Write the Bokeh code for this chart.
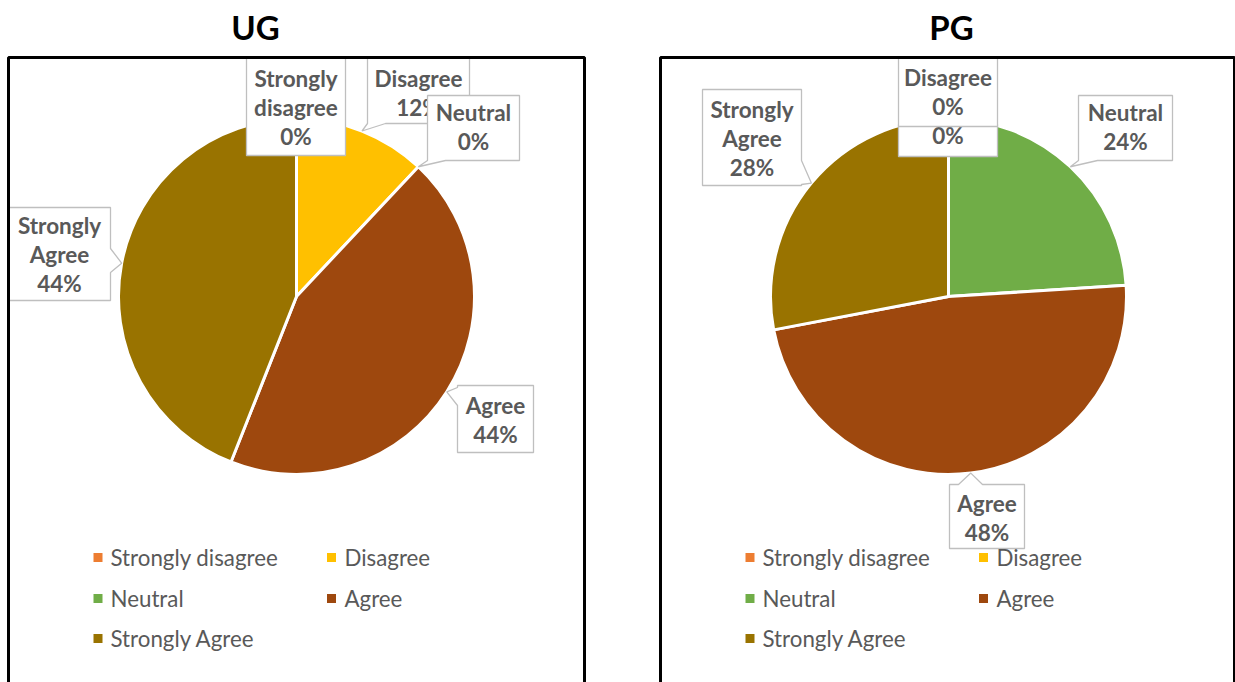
import math
from bokeh.plotting import figure
from bokeh.models import Range1d
from bokeh.core.properties import value
from bokeh.embed import file_html
from bokeh.resources import INLINE

# ---------------- data ----------------
categories = ["Strongly disagree", "Disagree", "Neutral", "Agree", "Strongly Agree"]
colors = ["#ED7D31", "#FFC000", "#70AD47", "#9E480E", "#997300"]
ug_values = [0, 12, 0, 44, 44]
pg_values = [0, 0, 24, 48, 28]
panel_titles = ["UG", "PG"]

# ---------------- layout (page pixel coordinates) ----------------
W, H = 1235, 682


def Y(v):
    return H - v


FONT = value("Lato")
LABEL_COLOR = "#595959"
BOX_LINE = "#BFBFBF"
LINE_STEP = 29

panels = [
    dict(title=panel_titles[0], values=ug_values, cx=296, cy=296, r=178, tx=255,
         border=(8, 584),
         legend=dict(cols=(97.5, 331), tcols=(110, 344), rows=(557, 598, 638)),
         labels={
             "Strongly disagree": dict(box=(246, 57, 345, 155), ty=78, ptr=None, name=True),
             "Disagree": dict(box=(367, 57, 469, 123), ty=78, ptr=("bottom", 367, 385), name=True),
             "Neutral": dict(box=(427, 95, 519, 160), ty=112, ptr=("bottom", 427, 445), name=True),
             "Agree": dict(box=(457, 385, 533, 452), ty=405, ptr=("left", 387, 405), name=True),
             "Strongly Agree": dict(box=(8, 207, 110, 300), ty=225, ptr=("right", 248, 272), name=True),
         }),
    dict(title=panel_titles[1], values=pg_values, cx=948, cy=296, r=178, tx=951,
         border=(660, 1234),
         legend=dict(cols=(749.5, 983), tcols=(762, 996), rows=(557, 598, 638)),
         labels={
             "Strongly disagree": dict(box=(898, 124, 997, 156), ty=135, ptr=None, name=False),
             "Disagree": dict(box=(898, 57, 997, 126), ty=77, ptr=None, name=True),
             "Neutral": dict(box=(1078, 95, 1172, 160), ty=112, ptr=("bottom", 1078, 1097), name=True),
             "Agree": dict(box=(949, 484, 1024, 548), ty=503, ptr=("top", 958, 982), name=True),
             "Strongly Agree": dict(box=(702, 89, 801, 185), ty=109, ptr=("right", 160, 184), name=True),
         }),
]

p = figure(width=W, height=H, x_range=Range1d(0, W), y_range=Range1d(0, H),
           output_backend="svg", toolbar_location=None,
           x_axis_type=None, y_axis_type=None, min_border=0)
p.outline_line_color = None
p.xgrid.visible = False
p.ygrid.visible = False
p.background_fill_color = "white"
p.border_fill_color = "white"


def callout(box, ptr, tip):
    x0, y0, x1, y1 = box
    pts = [(x0, y0)]
    if ptr is not None and ptr[0] == "top":
        pts += [(ptr[1], y0), tip, (ptr[2], y0)]
    pts.append((x1, y0))
    if ptr is not None and ptr[0] == "right":
        pts += [(x1, ptr[1]), tip, (x1, ptr[2])]
    pts.append((x1, y1))
    if ptr is not None and ptr[0] == "bottom":
        pts += [(ptr[2], y1), tip, (ptr[1], y1)]
    pts.append((x0, y1))
    if ptr is not None and ptr[0] == "left":
        pts += [(x0, ptr[2]), tip, (x0, ptr[1])]
    return [q[0] for q in pts], [Y(q[1]) for q in pts]


for pn in panels:
    vals = pn["values"]
    total = float(sum(vals))
    cx, cy, r = pn["cx"], pn["cy"], pn["r"]
    cum = 0.0
    mids = []
    for cat, v, col in zip(categories, vals, colors):
        f0 = cum / total
        f1 = (cum + v) / total
        cum += v
        mids.append((f0 + f1) / 2)
        if v > 0:
            p.wedge(x=cx, y=Y(cy), radius=r, radius_units="screen",
                    start_angle=math.pi / 2 - 2 * math.pi * f0,
                    end_angle=math.pi / 2 - 2 * math.pi * f1,
                    direction="clock", fill_color=col,
                    line_color="white", line_width=3)

    # data labels with callouts
    for cat, v, m in zip(categories, vals, mids):
        spec = pn["labels"][cat]
        ang = 2 * math.pi * m
        tip = (cx + r * math.sin(ang), cy - r * math.cos(ang))
        xs, ys = callout(spec["box"], spec["ptr"], tip)
        p.patch(xs, ys, fill_color="white", line_color=BOX_LINE, line_width=1.3)
        lines = (cat.split() if spec["name"] else []) + [f"{v}%"]
        bx = (spec["box"][0] + spec["box"][2]) / 2
        p.text(x=[bx] * len(lines),
               y=[Y(spec["ty"] + i * LINE_STEP) for i in range(len(lines))],
               text=lines, text_font=FONT, text_font_style="bold",
               text_font_size="22.5px", text_color=LABEL_COLOR,
               text_align="center", text_baseline="middle")

    # legend (2 columns, row-wise)
    lg = pn["legend"]
    for i, (cat, col) in enumerate(zip(categories, colors)):
        row, c = divmod(i, 2)
        p.scatter(x=[lg["cols"][c]], y=[Y(lg["rows"][row])], marker="square",
                  size=9, fill_color=col, line_color=None)
        p.text(x=[lg["tcols"][c]], y=[Y(lg["rows"][row])], text=[cat],
               text_font=FONT, text_font_size="22.3px", text_color=LABEL_COLOR,
               text_align="left", text_baseline="middle")

    # title
    p.text(x=[pn["tx"]], y=[Y(26)], text=[pn["title"]], text_font=FONT,
           text_font_style="bold", text_font_size="33px", text_color="black",
           text_align="center", text_baseline="middle")

    # panel border
    bl, br = pn["border"]
    p.quad(left=bl, right=br, top=Y(57), bottom=Y(700),
           fill_color=None, line_color="black", line_width=3)

open("out.html", "w").write(file_html(p, INLINE))
